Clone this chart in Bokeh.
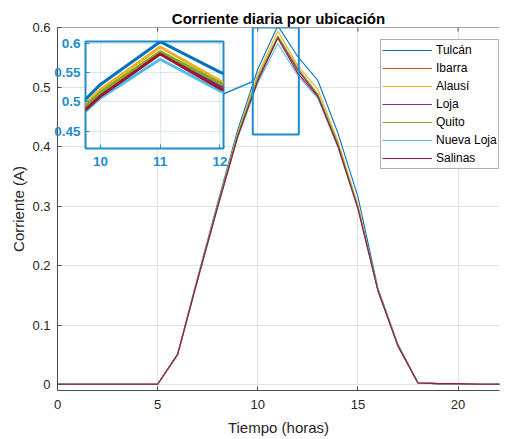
from bokeh.plotting import figure
from bokeh.models import (Range1d, FixedTicker, BoxAnnotation, Span,
                          CustomJSTickFormatter, GridBox)
from bokeh.embed import file_html
from bokeh.resources import INLINE

# ---------------- data ----------------
hours = [0, 1, 2, 3, 4, 5, 6, 7, 8, 9, 10, 11, 12, 13, 14, 15, 16, 17, 18, 19, 20, 21, 22, 23]
names = ["Tulcán", "Ibarra", "Alausí", "Loja", "Quito", "Nueva Loja", "Salinas"]

tulcan = [0.001, 0.001, 0.001, 0.001, 0.001, 0.001, 0.052, 0.181, 0.306, 0.428, 0.530, 0.603,
          0.551, 0.511, 0.423, 0.316, 0.162, 0.068, 0.003, 0.002, 0.002, 0.001, 0.001, 0.001]
ibarra = [0.001, 0.001, 0.001, 0.001, 0.001, 0.001, 0.051, 0.178, 0.300, 0.419, 0.515, 0.585,
          0.530, 0.487, 0.404, 0.298, 0.159, 0.066, 0.003, 0.002, 0.002, 0.001, 0.001, 0.001]
alausi = [0.001, 0.001, 0.001, 0.001, 0.001, 0.001, 0.052, 0.179, 0.303, 0.423, 0.521, 0.594,
          0.536, 0.496, 0.409, 0.302, 0.160, 0.067, 0.003, 0.002, 0.002, 0.001, 0.001, 0.001]
loja = [0.001, 0.001, 0.001, 0.001, 0.001, 0.001, 0.051, 0.177, 0.300, 0.418, 0.513, 0.584,
        0.528, 0.486, 0.403, 0.297, 0.159, 0.066, 0.003, 0.002, 0.002, 0.001, 0.001, 0.001]
quito = [0.001, 0.001, 0.001, 0.001, 0.001, 0.001, 0.051, 0.178, 0.301, 0.420, 0.516, 0.586,
         0.532, 0.488, 0.405, 0.299, 0.159, 0.066, 0.003, 0.002, 0.002, 0.001, 0.001, 0.001]
nueva_loja = [0.001, 0.001, 0.001, 0.001, 0.001, 0.001, 0.050, 0.176, 0.298, 0.415, 0.507, 0.573,
              0.519, 0.481, 0.399, 0.296, 0.158, 0.065, 0.003, 0.002, 0.002, 0.001, 0.001, 0.001]
salinas = [0.001, 0.001, 0.001, 0.001, 0.001, 0.001, 0.051, 0.177, 0.299, 0.417, 0.510, 0.582,
           0.523, 0.484, 0.401, 0.296, 0.158, 0.065, 0.003, 0.002, 0.002, 0.001, 0.001, 0.001]
series = [tulcan, ibarra, alausi, loja, quito, nueva_loja, salinas]

x_ticks = [0, 5, 10, 15, 20]
y_ticks = [0, 0.1, 0.2, 0.3, 0.4, 0.5, 0.6]
inset_x_ticks = [10, 11, 12]
inset_y_ticks = [0.45, 0.5, 0.55, 0.6]

# ---------------- styles / geometry ----------------
colors = ["#0072BD", "#D95319", "#EDB120", "#7E2F8E", "#77AC30", "#4DBEEE", "#A2142F"]
ZBLUE = "#1F8CCD"
FONT = "Liberation Sans"
AX = "#4d4d4d"
TXT = "#262626"

X0, X1 = 0, 22.07
Y0, Y1 = -0.0095, 0.6
IX0, IX1 = 9.75, 12.06
IY0, IY1 = 0.4205, 0.6033

FL, FR, FT, FB = 57, 500, 27, 390  # main frame in pixels (as rendered)
def to_main(px, py):
    return (X0 + (px - FL) / (FR - FL) * (X1 - X0), Y1 - (py - FT) / (FB - FT) * (Y1 - Y0))

fmt = CustomJSTickFormatter(code="return Number(tick.toFixed(2)).toString()")

# ---------------- main figure ----------------
p = figure(width=507, height=439, output_backend="svg", toolbar_location=None,
           x_range=Range1d(X0, X1), y_range=Range1d(Y0, Y1),
           min_border_left=FL, min_border_right=0, min_border_top=FT, min_border_bottom=439 - FB,
           outline_line_color=None, background_fill_color="white", border_fill_color="white")

p.title.text = "Corriente diaria por ubicación"
p.title.align = "center"
p.title.offset = 13
p.title.text_font = FONT
p.title.text_font_size = "15px"
p.title.text_font_style = "bold"
p.title.text_color = "black"
p.title.standoff = 2

for ax in (p.xaxis[0], p.yaxis[0]):
    ax.major_tick_in = 4
    ax.major_tick_out = 0
    ax.minor_tick_line_color = None
    ax.axis_line_color = AX
    ax.major_tick_line_color = AX
    ax.major_label_text_font = FONT
    ax.major_label_text_font_size = "13px"
    ax.major_label_text_color = TXT
    ax.axis_label_text_font = FONT
    ax.axis_label_text_font_size = "15px"
    ax.axis_label_text_font_style = "normal"
    ax.axis_label_text_color = TXT
    ax.formatter = fmt

p.xaxis[0].ticker = FixedTicker(ticks=x_ticks)
p.yaxis[0].ticker = FixedTicker(ticks=y_ticks)
p.xaxis[0].axis_label = "Tiempo (horas)"
p.yaxis[0].axis_label = "Corriente (A)"
p.xaxis[0].major_label_standoff = 9
p.yaxis[0].major_label_standoff = 7
p.xaxis[0].axis_label_standoff = 7
p.yaxis[0].axis_label_standoff = 2

# top box edge with inward ticks
p.add_layout(Span(location=Y1, dimension="width", line_color=AX, line_width=1))
tick_dy = 4 / (FB - FT) * (Y1 - Y0)
p.segment(x0=x_ticks, x1=x_ticks, y0=[Y1] * len(x_ticks), y1=[Y1 - tick_dy] * len(x_ticks),
          line_color=AX, line_width=1)

p.grid.grid_line_color = "#e3e3e3"

for name, ys, c in zip(names, series, colors):
    p.line(hours, ys, line_color=c, line_width=1.1, legend_label=name)

# zoom rectangle and connector
p.add_layout(BoxAnnotation(left=IX0, right=12.05, bottom=IY0, top=Y1,
                           fill_color=None, fill_alpha=0, line_color=ZBLUE,
                           line_alpha=1, line_width=2))
sx, sy = to_main(222, 94)
ex, ey = to_main(252.7, 81)
p.segment(x0=[sx], y0=[sy], x1=[ex], y1=[ey], line_color=ZBLUE, line_width=1.5)

lg = p.legend[0]
lg.location = (323, 221)
lg.padding = 1
lg.spacing = 0
lg.margin = 0
lg.label_height = 18
lg.glyph_height = 18
lg.glyph_width = 50
lg.label_standoff = 4
lg.label_text_font = FONT
lg.label_text_font_size = "12px"
lg.label_text_color = "black"
lg.border_line_color = "#666666"
lg.border_line_width = 1
lg.background_fill_alpha = 1

# ---------------- inset ----------------
ins = figure(frame_width=138, frame_height=107, output_backend="svg", toolbar_location=None,
             title=None, x_axis_label=None, y_axis_label=None,
             x_range=Range1d(IX0, IX1), y_range=Range1d(IY0, IY1),
             min_border_left=57, min_border_right=8, min_border_top=27, min_border_bottom=45,
             border_fill_color=None, background_fill_color="white",
             outline_line_color=ZBLUE, outline_line_width=2)
for ax in (ins.xaxis[0], ins.yaxis[0]):
    ax.axis_label = None
    ax.axis_label_standoff = 0
    ax.major_tick_in = 4
    ax.major_tick_out = 0
    ax.minor_tick_line_color = None
    ax.axis_line_color = None
    ax.major_tick_line_color = ZBLUE
    ax.major_label_text_font = FONT
    ax.major_label_text_font_size = "13.5px"
    ax.major_label_text_font_style = "bold"
    ax.major_label_text_color = ZBLUE
    ax.formatter = fmt
ins.xaxis[0].ticker = FixedTicker(ticks=inset_x_ticks)
ins.yaxis[0].ticker = FixedTicker(ticks=inset_y_ticks)
ins.xaxis[0].major_label_standoff = 8
ins.yaxis[0].major_label_standoff = 5
ins.grid.grid_line_color = ZBLUE
ins.grid.grid_line_alpha = 0.18

for ys, c in zip(series, colors):
    ins.line(hours, ys, line_color=c, line_width=3)

ins.margin = (14, 0, 0, 28)

root = GridBox(children=[(p, 0, 0), (ins, 0, 0)])

open("out.html", "w").write(file_html(root, INLINE))
